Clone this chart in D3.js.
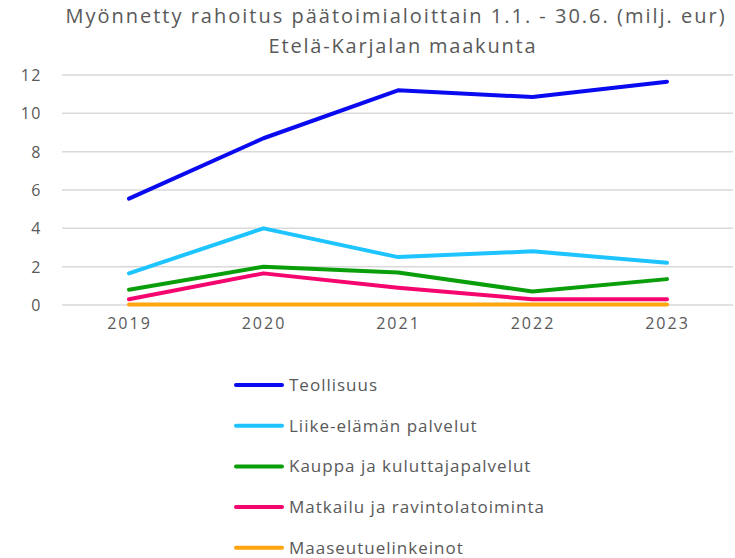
<!DOCTYPE html>
<html>
<head>
<meta charset="utf-8">
<script src="https://cdn.jsdelivr.net/npm/d3@7"></script>
<style>
  body { margin: 0; background: #fff; }
  text { font-family: "Open Sans", "Noto Sans", sans-serif; fill: #595959; }
</style>
</head>
<body>
<div id="chart"></div>
<script>
// Myönnetty rahoitus, Etelä-Karjala
const years = ["2019", "2020", "2021", "2022", "2023"];
const seriesNames = ["Teollisuus", "Liike-elämän palvelut", "Kauppa ja kuluttajapalvelut", "Matkailu ja ravintolatoiminta", "Maaseutuelinkeinot"];
const teollisuus = [5.55, 8.7, 11.2, 10.85, 11.65];
const liike = [1.65, 4.0, 2.5, 2.8, 2.2];
const kauppa = [0.8, 2.0, 1.7, 0.7, 1.35];
const matkailu = [0.3, 1.65, 0.9, 0.3, 0.3];
const maaseutu = [0.02, 0.02, 0.02, 0.02, 0.02];
const colors = ["#0a0af0", "#1ec4ff", "#0a9e0a", "#f5066e", "#ffa510"];
const yTicks = [0, 2, 4, 6, 8, 10, 12];

const allSeries = [teollisuus, liike, kauppa, matkailu, maaseutu];

const width = 735, height = 558;
const svg = d3.select("#chart").append("svg")
    .attr("width", width)
    .attr("height", height);

svg.append("text")
    .attr("x", 396).attr("y", 23)
    .attr("text-anchor", "middle")
    .style("font-size", "20px")
    .style("letter-spacing", "2px")
    .text("Myönnetty rahoitus päätoimialoittain 1.1. - 30.6. (milj. eur)");
svg.append("text")
    .attr("x", 403).attr("y", 53)
    .attr("text-anchor", "middle")
    .style("font-size", "20px")
    .style("letter-spacing", "1.8px")
    .text("Etelä-Karjalan maakunta");

const x = d3.scalePoint().domain(years).range([129, 667]);
const y = d3.scaleLinear().domain([0, 12]).range([305, 75]);

// gridlines
svg.append("g")
    .selectAll("line")
    .data(yTicks)
    .enter().append("line")
    .attr("x1", 62).attr("x2", 733)
    .attr("y1", d => y(d)).attr("y2", d => y(d))
    .attr("stroke", "#d9d9d9")
    .attr("stroke-width", 1.5);

const yAxis = svg.append("g")
    .attr("transform", "translate(42,0)")
    .call(d3.axisLeft(y).tickValues(yTicks).tickSize(0).tickPadding(0));
yAxis.select(".domain").remove();
yAxis.selectAll("text")
    .attr("dy", "0.35em")
    .style("font-size", "16px")
    .style("letter-spacing", "1.5px")
    .style("font-family", "'Open Sans', sans-serif")
    .attr("fill", "#595959");

const xAxis = svg.append("g")
    .attr("transform", "translate(0,305)")
    .call(d3.axisBottom(x).tickSize(0).tickPadding(13));
xAxis.select(".domain").remove();
xAxis.selectAll("text")
    .style("font-size", "16px")
    .style("letter-spacing", "2px")
    .style("font-family", "'Open Sans', sans-serif")
    .attr("fill", "#595959");

const line = d3.line()
    .x((d, i) => x(years[i]))
    .y(d => y(d));

// draw bottom series first so Teollisuus ends on top
svg.append("g")
    .selectAll("path")
    .data(allSeries.map((v, i) => ({ v, i })).reverse())
    .enter().append("path")
    .attr("d", d => line(d.v))
    .attr("fill", "none")
    .attr("stroke", d => colors[d.i])
    .attr("stroke-width", 4)
    .attr("stroke-linejoin", "round")
    .attr("stroke-linecap", "round");

// legend
const legend = svg.append("g")
    .selectAll("g")
    .data(seriesNames)
    .enter().append("g")
    .attr("transform", (d, i) => `translate(236,${385 + i * 40.7})`);

legend.append("line")
    .attr("x1", 0).attr("x2", 46)
    .attr("stroke", (d, i) => colors[i])
    .attr("stroke-width", 4)
    .attr("stroke-linecap", "round");

legend.append("text")
    .attr("x", 53)
    .attr("dy", "0.35em")
    .style("font-size", "17px")
    .style("letter-spacing", "1px")
    .text(d => d);
</script>
</body>
</html>
